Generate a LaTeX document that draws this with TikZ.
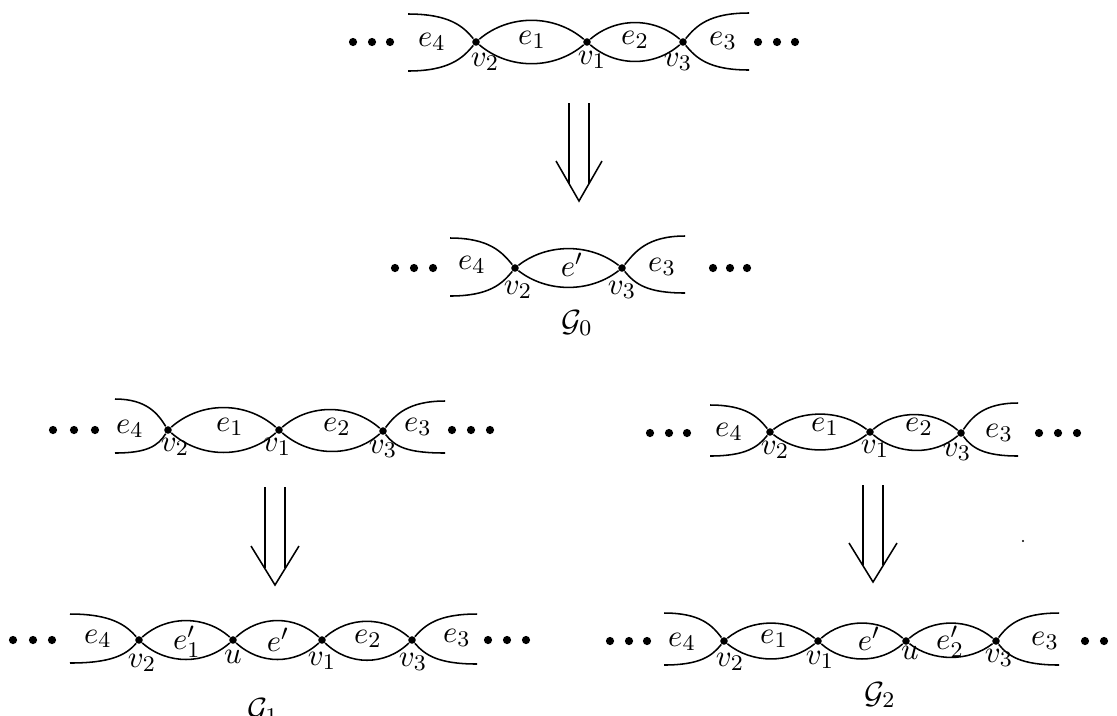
\documentclass[tikz,border=0pt]{standalone}
\usetikzlibrary{calc}
% one drawing unit is one pixel of the 1117 x 715 canvas
\tikzset{
  vtx/.style={circle, fill=black, inner sep=0pt, minimum size=2.7pt},
  lbl/.style={inner sep=0pt, font=\fontsize{10.95}{13}\selectfont},
  edge/.style={line width=0.55pt},
  imp/.style={line width=0.55pt, line join=miter},
}
\begin{document}
\begin{tikzpicture}[x=0.357pt,y=-0.357pt]
\useasboundingbox (0,0) rectangle (1117,715);

% ---------- top chain: v2 - v1 - v3 ----------
\node[vtx] (a2) at (476,42) {};
\node[vtx] (a1) at (587,42) {};
\node[vtx] (a3) at (683,42) {};
\coordinate (alt) at (408,14);  \coordinate (alb) at (408,71);
\coordinate (art) at (749,13);  \coordinate (arb) at (749,70);
\draw[edge] (alt) .. controls +(41,0) and +(-13,-16) .. (a2);
\draw[edge] (alb) .. controls +(41,0) and +(-13,16) .. (a2);
\draw[edge] (a2) .. controls +(33,-28) and +(-33,-28) .. (a1);
\draw[edge] (a2) .. controls +(33,28) and +(-33,28) .. (a1);
\draw[edge] (a1) .. controls +(29,-25) and +(-29,-25) .. (a3);
\draw[edge] (a1) .. controls +(29,25) and +(-29,25) .. (a3);
\draw[edge] (art) .. controls +(-40,0) and +(13,-16) .. (a3);
\draw[edge] (arb) .. controls +(-40,0) and +(13,16) .. (a3);
\foreach \x in {353,372,390,758,777,795} \fill (\x,42) circle (4.1);
\node[lbl] (ae4) at (432,42) {$e_4$};
\node[lbl] (ae1) at (532,40) {$e_1$};
\node[lbl] (ae2) at (635,40) {$e_2$};
\node[lbl] (ae3) at (723,41) {$e_3$};
\node[lbl] (av2) at (485,62) {$v_2$};
\node[lbl] (av1) at (592,60) {$v_1$};
\node[lbl] (av3) at (678,62) {$v_3$};

% implication arrow
\draw[imp] (569,103) -- (569,183.6);
\draw[imp] (589,103) -- (589,183.6);
\draw[imp] (556,161) -- (579,201) -- (602,161);

% ---------- G0: v2 - v3 ----------
\node[vtx] (b2) at (515,268) {};
\node[vtx] (b3) at (622,268) {};
\coordinate (blt) at (450,238);  \coordinate (blb) at (450,296);
\coordinate (brt) at (685,236);  \coordinate (brb) at (685,293);
\draw[edge] (blt) .. controls +(39,0) and +(-13,-16) .. (b2);
\draw[edge] (blb) .. controls +(39,0) and +(-13,16) .. (b2);
\draw[edge] (b2) .. controls +(32,-25) and +(-32,-25) .. (b3);
\draw[edge] (b2) .. controls +(32,25) and +(-32,25) .. (b3);
\draw[edge] (brt) .. controls +(-38,0) and +(13,-16) .. (b3);
\draw[edge] (brb) .. controls +(-38,0) and +(13,16) .. (b3);
\foreach \x in {395,414,433,713,730,747} \fill (\x,268) circle (4.1);
\node[lbl] (be4) at (472,265) {$e_4$};
\node[lbl] (bep) at (572,265) {$e'$};
\node[lbl] (be3) at (662,267) {$e_3$};
\node[lbl] (bv2) at (518,290) {$v_2$};
\node[lbl] (bv3) at (622,290) {$v_3$};
\node[lbl] (bG) at (577,323) {$\mathcal{G}_0$};

% ---------- lower left: v2 - v1 - v3 ----------
\node[vtx] (c2) at (168,430) {};
\node[vtx] (c1) at (279,430) {};
\node[vtx] (c3) at (383,431) {};
\coordinate (clt) at (115,399);  \coordinate (clb) at (115,453);
\coordinate (crt) at (445,401);  \coordinate (crb) at (445,453);
\draw[edge] (clt) .. controls +(32,0) and +(-10,-16) .. (c2);
\draw[edge] (clb) .. controls +(32,0) and +(-10,16) .. (c2);
\draw[edge] (c2) .. controls +(33,-29) and +(-33,-29) .. (c1);
\draw[edge] (c2) .. controls +(33,29) and +(-33,29) .. (c1);
\draw[edge] (c1) .. controls +(31,-27) and +(-31,-27) .. (c3);
\draw[edge] (c1) .. controls +(31,27) and +(-31,27) .. (c3);
\draw[edge] (crt) .. controls +(-37,0) and +(12,-16) .. (c3);
\draw[edge] (crb) .. controls +(-37,0) and +(12,16) .. (c3);
\foreach \x in {53,74,95,452,471,490} \fill (\x,430) circle (4.1);
\node[lbl] (ce4) at (130,429) {$e_4$};
\node[lbl] (ce1) at (230,427) {$e_1$};
\node[lbl] (ce2) at (337,427) {$e_2$};
\node[lbl] (ce3) at (418,427) {$e_3$};
\node[lbl] (cv2) at (175,447) {$v_2$};
\node[lbl] (cv1) at (277,447) {$v_1$};
\node[lbl] (cv3) at (383,449) {$v_3$};

\draw[imp] (265,487) -- (265,568);
\draw[imp] (285,487) -- (285,568);
\draw[imp] (251,546) -- (275,585) -- (299,546);

% ---------- G1: v2 - u - v1 - v3 ----------
\node[vtx] (d2) at (139,640) {};
\node[vtx] (du) at (233,640) {};
\node[vtx] (d1) at (322,640) {};
\node[vtx] (d3) at (412,640) {};
\coordinate (dlt) at (70,614);  \coordinate (dlb) at (70,663);
\coordinate (drt) at (477,614); \coordinate (drb) at (477,664);
\draw[edge] (dlt) .. controls +(41,0) and +(-13,-15) .. (d2);
\draw[edge] (dlb) .. controls +(41,0) and +(-13,15) .. (d2);
\draw[edge] (d2) .. controls +(28,-25) and +(-28,-25) .. (du);
\draw[edge] (d2) .. controls +(28,25) and +(-28,25) .. (du);
\draw[edge] (du) .. controls +(27,-25) and +(-27,-25) .. (d1);
\draw[edge] (du) .. controls +(27,25) and +(-27,25) .. (d1);
\draw[edge] (d1) .. controls +(27,-24) and +(-27,-24) .. (d3);
\draw[edge] (d1) .. controls +(27,26) and +(-27,26) .. (d3);
\draw[edge] (drt) .. controls +(-39,0) and +(13,-15) .. (d3);
\draw[edge] (drb) .. controls +(-39,0) and +(13,15) .. (d3);
\foreach \x in {13,33,52,488,507,526} \fill (\x,640) circle (4.1);
\node[lbl] (de4) at (98,639) {$e_4$};
\node[lbl] (de1) at (187,642) {$e_1'$};
\node[lbl] (dep) at (278,640) {$e'$};
\node[lbl] (de2) at (368,639) {$e_2$};
\node[lbl] (de3) at (457,638) {$e_3$};
\node[lbl] (dv2) at (142,663) {$v_2$};
\node[lbl] (dvu) at (233,657) {$u$};
\node[lbl] (dv1) at (322,661) {$v_1$};
\node[lbl] (dv3) at (413,662) {$v_3$};
\node[lbl] (dG) at (263,711) {$\mathcal{G}_1$};

% ---------- lower right: v2 - v1 - v3 ----------
\node[vtx] (f2) at (770,432) {};
\node[vtx] (f1) at (870,432) {};
\node[vtx] (f3) at (961,433) {};
\coordinate (flt) at (710,405);  \coordinate (flb) at (710,456);
\coordinate (frt) at (1018,403); \coordinate (frb) at (1018,456);
\draw[edge] (flt) .. controls +(36,0) and +(-12,-15) .. (f2);
\draw[edge] (flb) .. controls +(36,0) and +(-12,15) .. (f2);
\draw[edge] (f2) .. controls +(30,-23) and +(-30,-23) .. (f1);
\draw[edge] (f2) .. controls +(30,23) and +(-30,23) .. (f1);
\draw[edge] (f1) .. controls +(27,-23) and +(-27,-23) .. (f3);
\draw[edge] (f1) .. controls +(27,23) and +(-27,23) .. (f3);
\draw[edge] (frt) .. controls +(-34,0) and +(11,-16) .. (f3);
\draw[edge] (frb) .. controls +(-34,0) and +(11,15) .. (f3);
\foreach \x in {650,669,687,1039,1058,1077} \fill (\x,433) circle (4.1);
\node[lbl] (fe4) at (729,432) {$e_4$};
\node[lbl] (fe1) at (825,427) {$e_1$};
\node[lbl] (fe2) at (919,427) {$e_2$};
\node[lbl] (fe3) at (999,433) {$e_3$};
\node[lbl] (fv2) at (775,450) {$v_2$};
\node[lbl] (fv1) at (875,449) {$v_1$};
\node[lbl] (fv3) at (957,452) {$v_3$};

\draw[imp] (863,485) -- (863,565);
\draw[imp] (883,485) -- (883,565);
\draw[imp] (849,543) -- (873,582) -- (897,543);
\fill (1023,541) circle (1.1);

% ---------- G2: v2 - v1 - u - v3 ----------
\node[vtx] (g2) at (724,641) {};
\node[vtx] (g1) at (818,641) {};
\node[vtx] (gu) at (906,641) {};
\node[vtx] (g3) at (996,641) {};
\coordinate (glt) at (664,613);  \coordinate (glb) at (664,665);
\coordinate (grt) at (1059,613); \coordinate (grb) at (1059,665);
\draw[edge] (glt) .. controls +(36,0) and +(-12,-16) .. (g2);
\draw[edge] (glb) .. controls +(36,0) and +(-12,15) .. (g2);
\draw[edge] (g2) .. controls +(28,-23) and +(-28,-23) .. (g1);
\draw[edge] (g2) .. controls +(28,23) and +(-28,23) .. (g1);
\draw[edge] (g1) .. controls +(26,-23) and +(-26,-23) .. (gu);
\draw[edge] (g1) .. controls +(26,23) and +(-26,23) .. (gu);
\draw[edge] (gu) .. controls +(27,-23) and +(-27,-23) .. (g3);
\draw[edge] (gu) .. controls +(27,21) and +(-27,21) .. (g3);
\draw[edge] (grt) .. controls +(-38,0) and +(12,-16) .. (g3);
\draw[edge] (grb) .. controls +(-38,0) and +(12,15) .. (g3);
\foreach \x in {610,629,647,1085,1104,1123} \fill (\x,641) circle (4.1);
\node[lbl] (ge4) at (682,642) {$e_4$};
\node[lbl] (ge1) at (774,639) {$e_1$};
\node[lbl] (gep) at (869,639) {$e'$};
\node[lbl] (ge2) at (950,642) {$e_2'$};
\node[lbl] (ge3) at (1045,641) {$e_3$};
\node[lbl] (gv2) at (730,662) {$v_2$};
\node[lbl] (gv1) at (820,660) {$v_1$};
\node[lbl] (gvu) at (910,653) {$u$};
\node[lbl] (gv3) at (999,658) {$v_3$};
\node[lbl] (gG) at (880,695) {$\mathcal{G}_2$};
\end{tikzpicture}
\end{document}
